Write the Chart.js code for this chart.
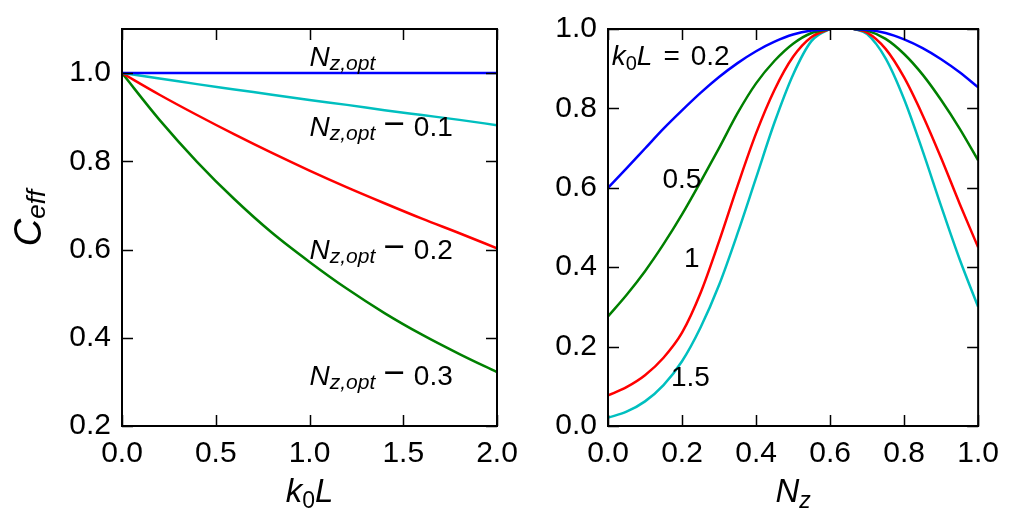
<!DOCTYPE html>
<html>
<head>
<meta charset="utf-8">
<script src="https://cdn.jsdelivr.net/npm/chart.js@4.4.0/dist/chart.umd.min.js"></script>
<style>
  html, body { margin: 0; padding: 0; background: #fff; width: 1009px; height: 511px; overflow: hidden; }
  canvas { position: absolute; top: 0; }
  #left { left: 0; }
  #right { left: 545px; }
</style>
</head>
<body>
<canvas id="left" width="540" height="511"></canvas>
<canvas id="right" width="464" height="511"></canvas>
<script>
// ---- Left panel: C_eff versus k0L at fixed offsets from Nz,opt ----
const k0L = [0, 0.2, 0.4, 0.6, 0.8, 1.0, 1.2, 1.4, 1.6, 1.8, 2.0];
const effAtOpt        = [1, 1, 1, 1, 1, 1, 1, 1, 1, 1, 1];
const effAtOptMinus01 = [1, 0.988, 0.975, 0.963, 0.951, 0.939, 0.928, 0.916, 0.905, 0.894, 0.882];
const effAtOptMinus02 = [1, 0.951, 0.905, 0.861, 0.819, 0.779, 0.741, 0.705, 0.670, 0.637, 0.603];
const effAtOptMinus03 = [1, 0.894, 0.799, 0.714, 0.638, 0.572, 0.511, 0.456, 0.407, 0.363, 0.322];
const leftXTicks = [0, 0.5, 1.0, 1.5, 2.0];
const leftYTicks = [0.2, 0.4, 0.6, 0.8, 1.0];

// ---- Right panel: C_eff versus Nz for several k0L ----
const nz = [0, 0.05, 0.1, 0.15, 0.2, 0.25, 0.3, 0.35, 0.4, 0.45, 0.5, 0.55, 0.6, 0.6325, 0.665, 0.7, 0.75, 0.8, 0.85, 0.9, 0.95, 1.0];
const effK02 = [0.600, 0.649, 0.699, 0.749, 0.795, 0.839, 0.879, 0.914, 0.944, 0.968, 0.986, 0.996, 1.0, 1.01, 1.0, 0.998, 0.990, 0.974, 0.952, 0.924, 0.891, 0.853];
const effK05 = [0.276, 0.330, 0.390, 0.458, 0.533, 0.615, 0.700, 0.788, 0.863, 0.920, 0.963, 0.990, 1.0, 1.01, 1.0, 0.996, 0.975, 0.937, 0.885, 0.821, 0.749, 0.669];
const effK1  = [0.077, 0.098, 0.128, 0.172, 0.235, 0.335, 0.465, 0.605, 0.737, 0.847, 0.930, 0.980, 1.0, 1.01, 1.0, 0.991, 0.950, 0.878, 0.783, 0.675, 0.560, 0.450];
const effK15 = [0.021, 0.036, 0.062, 0.103, 0.163, 0.248, 0.355, 0.485, 0.625, 0.765, 0.885, 0.970, 1.0, 1.01, 1.0, 0.987, 0.926, 0.823, 0.693, 0.554, 0.420, 0.300];
const rightXTicks = [0, 0.2, 0.4, 0.6, 0.8, 1.0];
const rightYTicks = [0, 0.2, 0.4, 0.6, 0.8, 1.0];

const BLUE = '#0000ff', GREEN = '#008000', RED = '#ff0000', CYAN = '#00bfbf';
const FONT = "'Liberation Sans', Arial, sans-serif";
const it = px => `italic ${px}px ${FONT}`;
const rm = px => `${px}px ${FONT}`;

function richWidth(ctx, segs) {
  let w = 0;
  for (const s of segs) { ctx.font = s.font; w += ctx.measureText(s.t).width + (s.gap || 0); }
  return w;
}
function drawRich(ctx, x, y, segs, align) {
  const w = richWidth(ctx, segs);
  let cx = align === 'center' ? x - w / 2 : (align === 'right' ? x - w : x);
  ctx.textAlign = 'left';
  ctx.textBaseline = 'alphabetic';
  for (const s of segs) {
    ctx.font = s.font;
    ctx.fillText(s.t, cx, y + (s.dy || 0));
    cx += ctx.measureText(s.t).width + (s.gap || 0);
  }
}

const nzOpt = [{ t: 'N', font: it(28) }, { t: 'z,opt', font: it(21), dy: 4 }];
const nzOptMinus = v => [
  { t: 'N', font: it(28) }, { t: 'z,opt', font: it(21), dy: 4, gap: 8 },
  { t: '\u2212', font: rm(37), gap: 9 }, { t: v, font: rm(28) }
];

function decor(spec) {
  return {
    id: 'decor',
    afterDatasetsDraw(chart) {
      const { ctx, chartArea: a, scales: { x, y } } = chart;
      ctx.save();
      ctx.strokeStyle = '#000';
      ctx.lineWidth = 1.5;
      ctx.beginPath();
      for (const v of spec.xTicks) {
        const px = Math.round(x.getPixelForValue(v)) + 0.5;
        ctx.moveTo(px, a.bottom); ctx.lineTo(px, a.bottom - 11);
        ctx.moveTo(px, a.top); ctx.lineTo(px, a.top + 11);
      }
      for (const v of spec.yTicks) {
        const py = Math.round(y.getPixelForValue(v)) + 0.5;
        ctx.moveTo(a.left, py); ctx.lineTo(a.left + 11, py);
        ctx.moveTo(a.right, py); ctx.lineTo(a.right - 11, py);
      }
      ctx.stroke();
      ctx.lineWidth = 2;
      ctx.strokeRect(a.left, a.top, a.right - a.left, a.bottom - a.top);

      ctx.fillStyle = '#000';
      for (const n of spec.notes) {
        drawRich(ctx, x.getPixelForValue(n.x), y.getPixelForValue(n.y), n.segs, 'left');
      }
      drawRich(ctx, (a.left + a.right) / 2, 502, spec.xTitle, 'center');
      if (spec.yTitle) {
        ctx.save();
        ctx.translate(41, 218);
        ctx.rotate(-Math.PI / 2);
        drawRich(ctx, 0, 0, spec.yTitle, 'center');
        ctx.restore();
      }
      ctx.restore();
    }
  };
}

function series(xs, ys, color) {
  return {
    data: xs.map((v, i) => ({ x: v, y: ys[i] })),
    borderColor: color, borderWidth: 2.5, pointRadius: 0,
    cubicInterpolationMode: 'monotone', clip: 0, fill: false
  };
}

function makeChart(id, datasets, xr, yr, xTicks, yTicks, yWidth, padRight, spec) {
  const tickFont = { family: FONT, size: 30 };
  return new Chart(document.getElementById(id), {
    type: 'line',
    data: { datasets },
    options: {
      responsive: false, animation: false, devicePixelRatio: 1,
      layout: { padding: { left: 0, right: padRight, top: 24, bottom: 0 } },
      plugins: { legend: { display: false }, tooltip: { enabled: false } },
      scales: {
        x: {
          type: 'linear', min: xr[0], max: xr[1],
          grid: { display: false, drawTicks: false }, border: { display: false },
          afterBuildTicks: s => { s.ticks = xTicks.map(v => ({ value: v })); },
          afterFit: s => { s.height = 85; },
          ticks: { padding: 10, color: '#000', font: tickFont, maxRotation: 0, autoSkip: false,
                   callback: v => Number(v).toFixed(1) }
        },
        y: {
          type: 'linear', min: yr[0], max: yr[1],
          grid: { display: false, drawTicks: false }, border: { display: false },
          afterBuildTicks: s => { s.ticks = yTicks.map(v => ({ value: v })); },
          afterFit: s => { s.width = yWidth; },
          ticks: { padding: 11, color: '#000', font: tickFont, autoSkip: false,
                   callback: v => Number(v).toFixed(1) }
        }
      }
    },
    plugins: [decor(spec)]
  });
}

makeChart('left', [
  series(k0L, effAtOpt, BLUE),
  series(k0L, effAtOptMinus01, CYAN),
  series(k0L, effAtOptMinus02, RED),
  series(k0L, effAtOptMinus03, GREEN)
], [0, 2], [0.2, 1.1], leftXTicks, leftYTicks, 122, 43, {
  xTicks: leftXTicks, yTicks: leftYTicks,
  notes: [
    { x: 1.0, y: 1.016, segs: nzOpt },
    { x: 1.0, y: 0.858, segs: nzOptMinus('0.1') },
    { x: 1.0, y: 0.578, segs: nzOptMinus('0.2') },
    { x: 1.0, y: 0.294, segs: nzOptMinus('0.3') }
  ],
  xTitle: [{ t: 'k', font: it(33) }, { t: '0', font: rm(23), dy: 6 }, { t: 'L', font: it(33) }],
  yTitle: [{ t: 'C', font: it(38) }, { t: 'eff', font: it(26), dy: 4 }]
});

makeChart('right', [
  series(nz, effK02, BLUE),
  series(nz, effK05, GREEN),
  series(nz, effK1, RED),
  series(nz, effK15, CYAN)
], [0, 1], [0, 1], rightXTicks, rightYTicks, 63, 26, {
  xTicks: rightXTicks, yTicks: rightYTicks,
  notes: [
    { x: 0.01, y: 0.91, segs: [{ t: 'k', font: it(28) }, { t: '0', font: rm(20), dy: 5 }, { t: 'L', font: it(28), gap: 11 }, { t: '=', font: rm(28), gap: 11 }, { t: '0.2', font: rm(28) }] },
    { x: 0.147, y: 0.60, segs: [{ t: '0.5', font: rm(28) }] },
    { x: 0.205, y: 0.40, segs: [{ t: '1', font: rm(28) }] },
    { x: 0.17, y: 0.10, segs: [{ t: '1.5', font: rm(28) }] }
  ],
  xTitle: [{ t: 'N', font: it(33) }, { t: 'z', font: it(23), dy: 6 }],
  yTitle: null
});
</script>
</body>
</html>
